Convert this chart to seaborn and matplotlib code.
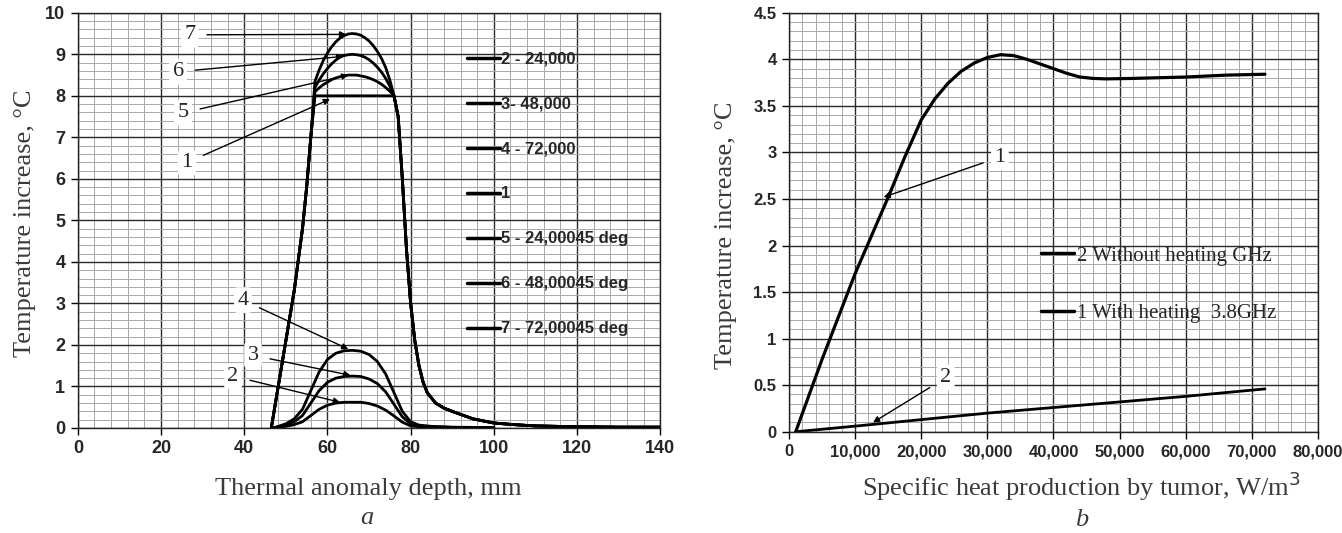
import numpy as np
import pandas as pd
import matplotlib
matplotlib.use("Agg")
import matplotlib.pyplot as plt
from matplotlib.ticker import MultipleLocator, FuncFormatter
import seaborn as sns

# ---- panel a: temperature increase vs thermal anomaly depth ----
depth_big = [46.5, 48, 50, 52, 54, 55,
             56, 57, 58, 59, 60, 61, 62, 63, 64, 65, 66, 67, 68, 69, 70, 71, 72, 73, 74, 75, 76,
             77, 78, 79, 80, 81, 82, 83, 84,
             86, 88, 90, 95, 100, 105, 110, 120, 130, 140]
rise = [0, 0.9, 2.1, 3.3, 4.8, 5.8, 7.0]
fall = [7.5, 6.0, 4.3, 3.0, 2.1, 1.5, 1.1, 0.85,
        0.6, 0.48, 0.4, 0.22, 0.12, 0.08, 0.05, 0.03, 0.02, 0.02]
top_1 = [8.0] * 20
top_5 = [8.1, 8.19, 8.27, 8.33, 8.39, 8.43, 8.46, 8.48, 8.5, 8.5,
         8.5, 8.48, 8.46, 8.43, 8.39, 8.34, 8.28, 8.2, 8.11, 8.0]
top_6 = [8.2, 8.38, 8.53, 8.66, 8.77, 8.86, 8.93, 8.97, 8.99, 9.0,
         8.99, 8.97, 8.93, 8.87, 8.79, 8.69, 8.57, 8.42, 8.23, 8.0]
top_7 = [8.35, 8.62, 8.85, 9.03, 9.18, 9.3, 9.39, 9.45, 9.49, 9.5,
         9.49, 9.46, 9.4, 9.32, 9.21, 9.07, 8.9, 8.68, 8.38, 8.0]
curve_1 = rise + top_1 + fall
curve_5 = rise + top_5 + fall
curve_6 = rise + top_6 + fall
curve_7 = rise + top_7 + fall

depth_small = [47, 50, 52, 54, 56, 58, 60, 62, 64, 66, 68, 70, 72, 74, 76, 78, 80, 82, 85, 90, 100]
curve_2 = [0, 0.04, 0.08, 0.15, 0.3, 0.45, 0.55, 0.6, 0.62, 0.62, 0.62, 0.59, 0.53, 0.43, 0.29, 0.14, 0.05,
           0.03, 0.02, 0.01, 0.005]
curve_3 = [0, 0.07, 0.15, 0.3, 0.6, 0.9, 1.1, 1.2, 1.24, 1.25, 1.24, 1.18, 1.07, 0.87, 0.57, 0.27, 0.1,
           0.05, 0.03, 0.015, 0.01]
curve_4 = [0, 0.1, 0.22, 0.45, 0.9, 1.35, 1.65, 1.8, 1.86, 1.87, 1.85, 1.77, 1.6, 1.3, 0.85, 0.4, 0.15,
           0.07, 0.04, 0.02, 0.01]

labels_a = ["2 - 24,000", "3- 48,000", "4 - 72,000", "1",
            "5 - 24,00045 deg", "6 - 48,00045 deg", "7 - 72,00045 deg"]

# ---- panel b: temperature increase vs specific heat production ----
heat_1 = [1000, 5000, 10000, 15000, 17500, 20000, 22000, 24000, 26000, 28000, 30000, 32000, 34000,
          36000, 38000, 40000, 42000, 44000, 46000, 48000, 52000, 60000, 66000, 72000]
with_heating = [0, 0.78, 1.7, 2.52, 2.95, 3.35, 3.57, 3.74, 3.87, 3.96, 4.02, 4.05, 4.04,
                4.0, 3.95, 3.9, 3.85, 3.81, 3.795, 3.79, 3.795, 3.81, 3.83, 3.84]
heat_2 = [1000, 10000, 20000, 30000, 40000, 50000, 60000, 72000]
without_heating = [0, 0.06, 0.13, 0.2, 0.26, 0.32, 0.38, 0.46]
labels_b = ["2 Without heating GHz", "1 With heating  3.8GHz"]

sns.set_theme(style="white")
plt.rcParams['font.family'] = ['Liberation Serif', 'DejaVu Serif']

fig = plt.figure(figsize=(13.42, 5.33), dpi=100)
ax1 = fig.add_axes([0.058, 0.197, 0.434, 0.779])
ax2 = fig.add_axes([0.588, 0.19, 0.394, 0.786])

lw = 2.0
series_a = [(depth_small, curve_2), (depth_small, curve_3), (depth_small, curve_4),
            (depth_big, curve_1), (depth_big, curve_5), (depth_big, curve_6), (depth_big, curve_7)]
for (xs, ys), lab in zip(series_a, labels_a):
    sns.lineplot(x=xs, y=ys, ax=ax1, color="black", lw=lw, label=lab, sort=False)

sns.lineplot(x=heat_2, y=without_heating, ax=ax2, color="black", lw=lw, label=labels_b[0], sort=False)
sns.lineplot(x=heat_1, y=with_heating, ax=ax2, color="black", lw=lw + 0.3, label=labels_b[1], sort=False)


def style_axes(ax, xmax, ymax, xmaj, xmin, ymaj, ymin, size):
    ax.set_xlim(0, xmax)
    ax.set_ylim(0, ymax)
    ax.xaxis.set_major_locator(MultipleLocator(xmaj))
    ax.xaxis.set_minor_locator(MultipleLocator(xmin))
    ax.yaxis.set_major_locator(MultipleLocator(ymaj))
    ax.yaxis.set_minor_locator(MultipleLocator(ymin))
    ax.grid(which="major", color="#2a2a2a", lw=1.0)
    ax.grid(which="minor", color="#a8a8a8", lw=0.7)
    ax.set_axisbelow(True)
    for s in ax.spines.values():
        s.set_color("#222222")
        s.set_linewidth(1.0)
    ax.tick_params(which="major", direction="out", length=5, width=1, color="black",
                   bottom=True, left=True, labelsize=size, pad=4)
    ax.tick_params(which="minor", length=0)


style_axes(ax1, 140, 10, 20, 4, 1, 0.2, 13)
style_axes(ax2, 80000, 4.5, 10000, 2000, 0.5, 0.1, 12)
ax2.xaxis.set_major_formatter(FuncFormatter(lambda v, p: "{:,.0f}".format(v)))
ax2.yaxis.set_major_formatter(FuncFormatter(lambda v, p: "{:g}".format(v)))
for ax in (ax1, ax2):
    for t in ax.get_xticklabels() + ax.get_yticklabels():
        t.set_family(["Liberation Sans", "DejaVu Sans"])
        t.set_fontweight("bold")

label_color = "#3a3a3a"
ax1.set_xlabel("Thermal anomaly depth, mm", fontsize=19, color=label_color)
ax1.set_ylabel("Temperature increase, °C", fontsize=19, color=label_color)
ax1.xaxis.set_label_coords(0.498, -0.12)
ax1.yaxis.set_label_coords(-0.072, 0.494)
ax1.text(0.497, -0.217, "a", transform=ax1.transAxes, fontsize=19, style="italic",
         color=label_color, ha="center", va="center")

ax2.set_xlabel("Specific heat production by tumor, W/m$^{3}$", fontsize=19, color=label_color)
ax2.set_ylabel("Temperature increase, °C", fontsize=19, color=label_color)
ax2.xaxis.set_label_coords(0.552, -0.09)
ax2.yaxis.set_label_coords(-0.098, 0.468)
ax2.text(0.554, -0.21, "b", transform=ax2.transAxes, fontsize=19, style="italic",
         color=label_color, ha="center", va="center")

leg1 = ax1.legend(loc="upper left", bbox_to_anchor=(0.668, 0.907), frameon=False,
                  handlelength=2.0, handletextpad=0.05, labelspacing=1.8, borderpad=0,
                  borderaxespad=0, prop={"family": ["Liberation Sans", "DejaVu Sans"],
                                         "weight": "bold", "size": 12})
leg2 = ax2.legend(loc="upper left", bbox_to_anchor=(0.476, 0.443), frameon=False,
                  handlelength=1.6, handletextpad=0.15, labelspacing=1.8, borderpad=0,
                  borderaxespad=0, prop={"size": 15})
for leg in (leg1, leg2):
    for h in leg.get_lines():
        h.set_linewidth(2.5)

arrow = dict(arrowstyle="-|>", color="black", lw=1.0, mutation_scale=9, shrinkA=6, shrinkB=0)
box = dict(boxstyle="round,pad=0.15", fc="white", ec="none")
notes_a = [("7", (26.9, 9.47), (64.5, 9.48)),
           ("6", (24.1, 8.58), (63.8, 8.95)),
           ("5", (25.3, 7.59), (65.0, 8.5)),
           ("1", (26.2, 6.39), (60.6, 7.92)),
           ("4", (39.7, 3.08), (65.0, 1.9)),
           ("3", (42.1, 1.75), (65.5, 1.27)),
           ("2", (37.3, 1.25), (63.0, 0.62))]
for txt, xy_text, xy in notes_a:
    ax1.annotate(txt, xy=xy, xytext=xy_text, fontsize=16, ha="center", va="center",
                 arrowprops=arrow, bbox=box)

notes_b = [("1", (31900, 2.95), (14300, 2.52)),
           ("2", (23700, 0.58), (12700, 0.1))]
for txt, xy_text, xy in notes_b:
    ax2.annotate(txt, xy=xy, xytext=xy_text, fontsize=16, ha="center", va="center",
                 arrowprops=arrow, bbox=box)

fig.savefig("out.png", dpi=100)
